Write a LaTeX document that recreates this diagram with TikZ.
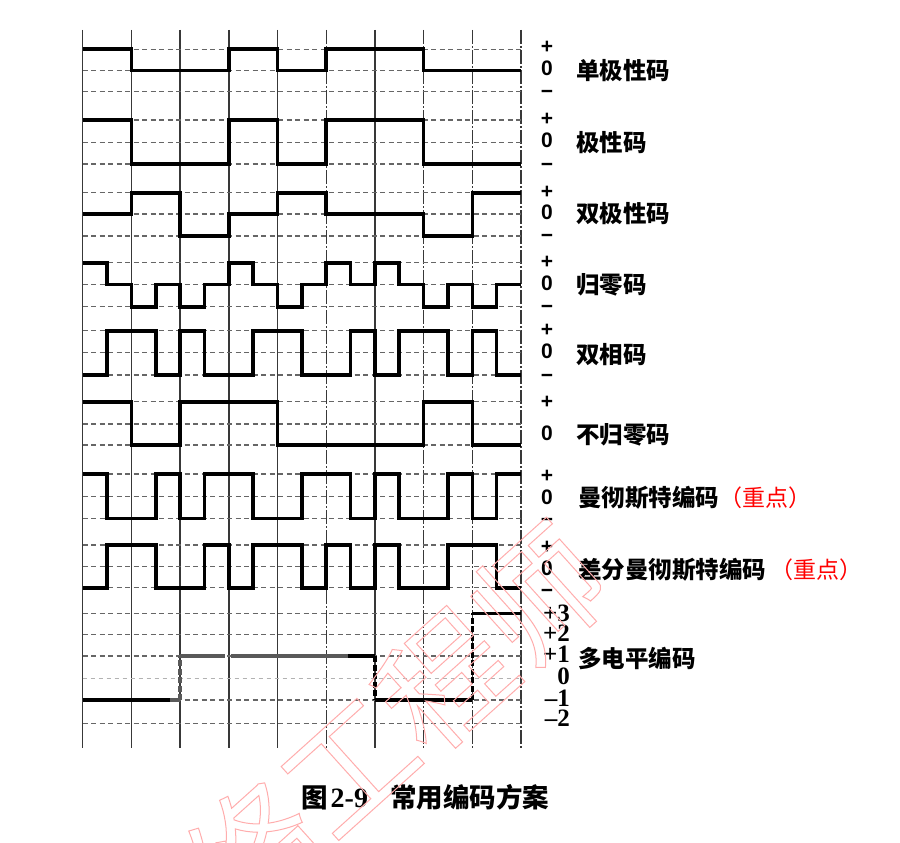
\documentclass[tikz,border=0pt]{standalone}
\usepackage{fontspec}
\setmainfont{Liberation Serif}
\newfontfamily\cjk{Noto Sans CJK SC}
\newfontfamily\lsans{Liberation Sans}
\newfontfamily\lserif{Liberation Serif}
\begin{document}
\begin{tikzpicture}[x=1pt,y=-1pt]
\tikzset{
  vgrid/.style={draw=black!78, line width=1.4pt},
  vgriddd/.style={vgrid, dash pattern=on 14pt off 2pt on 2pt off 2pt},
  hgrid/.style={draw=black!60, line width=1.25pt, dash pattern=on 5pt off 3.5pt},
  hgridfaint/.style={draw=black!30, line width=1.1pt, dash pattern=on 4pt off 4pt},
  wave/.style={draw=black, line width=3.6pt, line join=miter},
  wavegray/.style={wave, draw=black!65},
  wavedash/.style={wave, dash pattern=on 6pt off 2.5pt},
  lvl/.style={font=\lsans\bfseries\fontsize{21}{21}\selectfont, inner sep=0pt,
              text height=10pt, text depth=0pt},
  mlvl/.style={font=\lserif\bfseries\fontsize{25}{25}\selectfont, inner sep=0pt, anchor=east,
               text height=10pt, text depth=0pt},
  lab/.style={font=\cjk\bfseries\fontsize{23.5}{23.5}\selectfont, inner sep=0pt, anchor=west},
  captext/.style={font=\cjk\bfseries\fontsize{26.5}{26.5}\selectfont, inner sep=0pt},
}
\useasboundingbox (0,0) rectangle (900,843);
\fill[white] (0,0) rectangle (900,843);

\begin{scope}[shift={(82.7pt,0pt)}, x=48.7pt]
  % vertical grid
  \foreach \k in {0,1,2,3,4,6} \draw[vgrid] (\k,30) -- (\k,748);
  \foreach \k in {5,7,8,9} \draw[vgriddd] (\k,30) -- (\k,748);
  % horizontal grid
  \foreach \yy in {49.3,70.7,91.7,120,142.3,164,192.7,214,236,262.7,284.3,306.7,
                   330.7,352.7,375,401.7,424,445,474,496.7,518.3,545,566.7,587.7,
                   613.3,634.3,656,700,723.3}
    \draw[hgrid] (0,\yy) -- (9,\yy);
  \draw[hgridfaint] (0,678.3) -- (9,678.3);

  % 1 unipolar
  \draw[wave] (0,49.3) -- (1,49.3) -- (1,70.7) -- (3,70.7) -- (3,49.3) -- (4,49.3)
    -- (4,70.7) -- (5,70.7) -- (5,49.3) -- (7,49.3) -- (7,70.7) -- (9,70.7);
  % 2 polar
  \draw[wave] (0,120) -- (1,120) -- (1,164) -- (3,164) -- (3,120) -- (4,120)
    -- (4,164) -- (5,164) -- (5,120) -- (7,120) -- (7,164) -- (9,164);
  % 3 bipolar
  \draw[wave] (0,214) -- (1,214) -- (1,192.7) -- (2,192.7) -- (2,236) -- (3,236)
    -- (3,214) -- (4,214) -- (4,192.7) -- (5,192.7) -- (5,214) -- (7,214)
    -- (7,236) -- (8,236) -- (8,192.7) -- (9,192.7);
  % 4 return to zero
  \draw[wave] (0,262.7) -- (0.5,262.7) -- (0.5,284.3) -- (1,284.3) -- (1,306.7)
    -- (1.5,306.7) -- (1.5,284.3) -- (2,284.3) -- (2,306.7) -- (2.5,306.7)
    -- (2.5,284.3) -- (3,284.3) -- (3,262.7) -- (3.5,262.7) -- (3.5,284.3)
    -- (4,284.3) -- (4,306.7) -- (4.5,306.7) -- (4.5,284.3) -- (5,284.3)
    -- (5,262.7) -- (5.5,262.7) -- (5.5,284.3) -- (6,284.3) -- (6,262.7)
    -- (6.5,262.7) -- (6.5,284.3) -- (7,284.3) -- (7,306.7) -- (7.5,306.7)
    -- (7.5,284.3) -- (8,284.3) -- (8,306.7) -- (8.5,306.7) -- (8.5,284.3)
    -- (9,284.3);
  % 5 biphase
  \draw[wave] (0,375) -- (0.5,375) -- (0.5,330.7) -- (1.5,330.7) -- (1.5,375)
    -- (2,375) -- (2,330.7) -- (2.5,330.7) -- (2.5,375) -- (3.5,375)
    -- (3.5,330.7) -- (4.5,330.7) -- (4.5,375) -- (5.5,375) -- (5.5,330.7)
    -- (6,330.7) -- (6,375) -- (6.5,375) -- (6.5,330.7) -- (7.5,330.7)
    -- (7.5,375) -- (8,375) -- (8,330.7) -- (8.5,330.7) -- (8.5,375) -- (9,375);
  % 6 NRZ
  \draw[wave] (0,401.7) -- (1,401.7) -- (1,445) -- (2,445) -- (2,401.7)
    -- (4,401.7) -- (4,445) -- (7,445) -- (7,401.7) -- (8,401.7) -- (8,445) -- (9,445);
  % 7 Manchester
  \draw[wave] (0,474) -- (0.5,474) -- (0.5,518.3) -- (1.5,518.3) -- (1.5,474)
    -- (2,474) -- (2,518.3) -- (2.5,518.3) -- (2.5,474) -- (3.5,474)
    -- (3.5,518.3) -- (4.5,518.3) -- (4.5,474) -- (5.5,474) -- (5.5,518.3)
    -- (6,518.3) -- (6,474) -- (6.5,474) -- (6.5,518.3) -- (7.5,518.3)
    -- (7.5,474) -- (8,474) -- (8,518.3) -- (8.5,518.3) -- (8.5,474) -- (9,474);
  % 8 differential Manchester
  \draw[wave] (0,587.7) -- (0.5,587.7) -- (0.5,545) -- (1.5,545) -- (1.5,587.7)
    -- (2.5,587.7) -- (2.5,545) -- (3,545) -- (3,587.7) -- (3.5,587.7)
    -- (3.5,545) -- (4.5,545) -- (4.5,587.7) -- (5,587.7) -- (5,545)
    -- (5.5,545) -- (5.5,587.7) -- (6,587.7) -- (6,545) -- (6.5,545)
    -- (6.5,587.7) -- (7.5,587.7) -- (7.5,545) -- (8.5,545) -- (8.5,587.7)
    -- (9,587.7);
  % 9 multilevel
  \draw[wave] (0,700) -- (1.79,700);
  \draw[wavegray] (1.79,700) -- (2,700);
  \draw[wavegray, dash pattern=on 6pt off 2.5pt] (2,700) -- (2,656);
  \draw[wavegray] (2,656) -- (2.93,656);
  \draw[wavegray] (3.04,656) -- (5.45,656);
  \draw[wave] (5.45,656) -- (6,656);
  \draw[wavedash] (6,656) -- (6,700);
  \draw[wave] (6,700) -- (8,700);
  \draw[wavedash] (8,700) -- (8,613.3);
  \draw[wave] (8,613.3) -- (9,613.3);
\end{scope}

% level labels
\foreach \r/\t/\m/\b in {1/48.5/70.5/94,2/120/142.5/166,3/193/214.5/237,
                         4/263/285/308,5/331/353/377,7/477/499/521,8/548/570/592}{
  \node[lvl] (p\r) at (547,\t) {+};
  \node[lvl] (z\r) at (547,\m) {0};
  \node[lvl] (m\r) at (547,\b) {−};
}
\node[lvl] (p6) at (547,403) {+};
\node[lvl] (z6) at (547,435) {0};

\node[mlvl] (l3p) at (570,616) {+3};
\node[mlvl] (l2p) at (570,636) {+2};
\node[mlvl] (l1p) at (570,657) {+1};
\node[mlvl] (l0)  at (570,679) {0};
\node[mlvl] (l1m) at (570,701) {–1};
\node[mlvl] (l2m) at (570,721) {–2};

% code names
\node[lab] (n1) at (576,71) {单极性码};
\node[lab] (n2) at (576,143) {极性码};
\node[lab] (n3) at (576,214) {双极性码};
\node[lab] (n4) at (576,285) {归零码};
\node[lab] (n5) at (576,355) {双相码};
\node[lab] (n6) at (576,435) {不归零码};
\node[lab] (n7) at (578,498) {曼彻斯特编码{\color{red}\mdseries\fontsize{23}{23}\selectfont （重点）}};
\node[lab] (n8) at (578,570) {差分曼彻斯特编码\hspace{4pt}{\color{red}\mdseries\fontsize{23}{23}\selectfont （重点）}};
\node[lab] (n9) at (578,658) {多电平编码};

% caption
\node[captext, anchor=west] (cap) at (301,797)
  {图\hspace{3pt}{\lserif\bfseries\fontsize{28}{28}\selectfont 2-9}\hspace{22pt}常用编码方案};

% watermark
\node[rotate=42, text=red!32, font=\cjk\fontsize{128}{128}\selectfont, inner sep=0pt]
  (wm) at (348,765) {\special{pdf:literal direct 1 Tr 1 w}网络工程师\special{pdf:literal direct 0 Tr}};
\end{tikzpicture}
\end{document}
